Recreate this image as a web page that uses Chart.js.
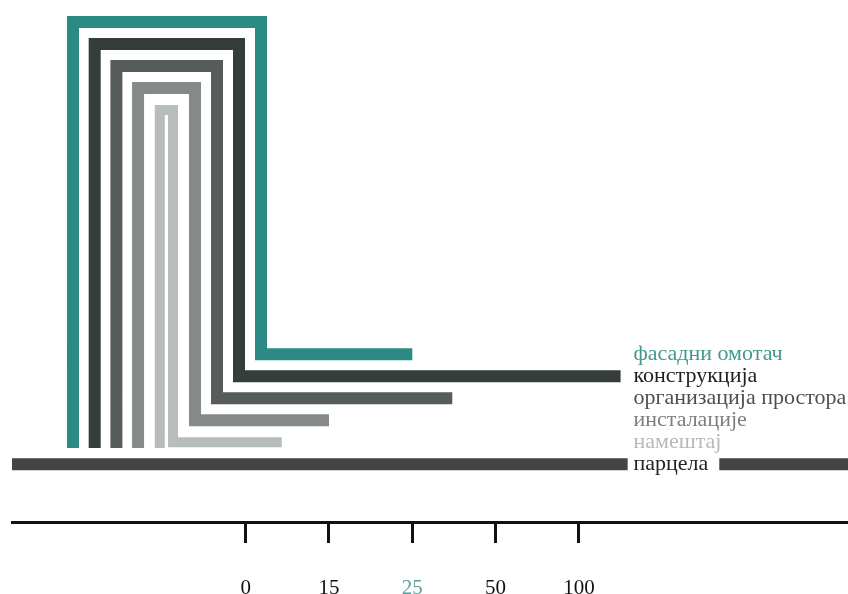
<!DOCTYPE html>
<html lang="sr">
<head>
<meta charset="UTF-8">
<title>Слојеви зграде</title>
<script src="https://cdn.jsdelivr.net/npm/chart.js"></script>
<style>
    html, body { margin: 0; padding: 0; background: #fff; }
    #okvir { width: 848px; height: 594px; }
</style>
</head>
<body>
<div id="okvir"><canvas id="slojevi"></canvas></div>

<script>
// podaci sa slike
var slojevi = ['фасадни омотач', 'конструкција', 'организација простора', 'инсталације', 'намештај'];
var trajanje = [25, 125, 37, 15, 6.5]; // godine - gde se traka zavrsava
var tickGodine = [0, 15, 25, 50, 100];
var tickOznake = ['0', '15', '25', '50', '100'];
var parcela = 'парцела';

var boje = ['#2b8a84', '#353c3c', '#565c5b', '#858a89', '#b6bdba'];
var bojeTeksta = ['#43998f', '#1e1e1e', '#4d4f4f', '#7e8080', '#b8b8b8'];

// raspored (jedinice osa)
var xMin = -2.805, xMax = 7.23;
var yMax = 23.727;
var levo0 = -2.073, desno0 = 0.184, korakL = 0.2605, korakD = 0.264;
var dno = 20.36, vrh0 = 1, red0 = 16.1, redParcela = 21.1;
var xTekst = 4.655;

// godine -> polozaj na osi (podeoci su na jednakim razmacima)
function naOsu(god) {
    for (var k = 1; k < tickGodine.length; k++) {
        if (god <= tickGodine[k] || k == tickGodine.length - 1) {
            return (k - 1) + (god - tickGodine[k - 1]) / (tickGodine[k] - tickGodine[k - 1]);
        }
    }
}

var skupovi = slojevi.map(function (s, i) {
    var l = levo0 + i * korakL;
    var d = desno0 - i * korakD;
    return {
        label: s,
        data: [
            { x: l, y: dno },
            { x: l, y: vrh0 + i },
            { x: d, y: vrh0 + i },
            { x: d, y: red0 + i },
            { x: naOsu(trajanje[i]), y: red0 + i }
        ],
        borderColor: boje[i],
        borderWidth: i == 4 ? 10 : 12
    };
});

skupovi.push({
    label: parcela,
    data: [
        { x: xMin, y: redParcela },
        { x: xTekst - 0.07, y: redParcela },
        { x: xTekst + 0.5, y: null },
        { x: xTekst + 1.03, y: redParcela },
        { x: xMax, y: redParcela }
    ],
    borderColor: '#444444',
    borderWidth: 12
});

var natpisi = {
    id: 'natpisi',
    afterDatasetsDraw: function (chart) {
        var ctx = chart.ctx;
        var x = chart.scales.x.getPixelForValue(xTekst);
        ctx.save();
        ctx.font = '22px "Liberation Serif"';
        ctx.textBaseline = 'middle';
        slojevi.forEach(function (s, i) {
            ctx.fillStyle = bojeTeksta[i];
            ctx.fillText(s, x, chart.scales.y.getPixelForValue(red0 + i));
        });
        ctx.fillStyle = '#222';
        ctx.fillText(parcela, x, chart.scales.y.getPixelForValue(redParcela));
        ctx.restore();
    }
};

Chart.defaults.font.family = '"Liberation Serif"';

new Chart(document.getElementById('slojevi'), {
    type: 'line',
    data: { datasets: skupovi },
    options: {
        responsive: true,
        maintainAspectRatio: false,
        animation: false,
        layout: { padding: { left: 12, right: 0, top: 0, bottom: 0 } },
        elements: {
            point: { radius: 0, hoverRadius: 0 },
            line: { tension: 0, borderJoinStyle: 'miter', borderCapStyle: 'butt', fill: false }
        },
        plugins: {
            legend: { display: false },
            tooltip: { enabled: false }
        },
        scales: {
            x: {
                type: 'linear',
                min: xMin,
                max: xMax,
                afterBuildTicks: function (scale) {
                    scale.ticks = tickGodine.map(function (g, i) { return { value: i }; });
                },
                afterFit: function (scale) {
                    scale.height = 72;
                },
                border: { display: true, color: '#111', width: 3 },
                grid: { drawOnChartArea: false, drawTicks: true, tickLength: 21, color: '#111', lineWidth: 3 },
                ticks: {
                    padding: 33,
                    autoSkip: false,
                    maxRotation: 0,
                    font: { size: 21 },
                    color: function (c) { return c.index == 2 ? '#5e9e99' : '#111'; },
                    callback: function (v, idx) { return tickOznake[idx]; }
                }
            },
            y: {
                type: 'linear',
                display: false,
                reverse: true,
                min: 0,
                max: yMax
            }
        }
    },
    plugins: [natpisi]
});
</script>
</body>
</html>
